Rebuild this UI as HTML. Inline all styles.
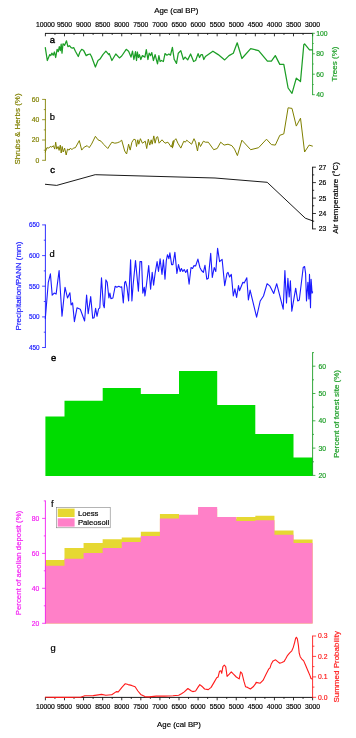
<!DOCTYPE html>
<html><head><meta charset="utf-8"><title>chart</title>
<style>html,body{margin:0;padding:0;background:#fff}body{width:356px;height:738px;overflow:hidden;font-family:"Liberation Sans",sans-serif}</style></head>
<body>
<svg width="356" height="738" viewBox="0 0 356 738" style="display:block;will-change:transform" font-family="Liberation Sans, sans-serif">
<rect width="356" height="738" fill="#fff"/>
<path d="M45.4 475.9 L45.4 416.6 L64.5 416.6 L64.5 400.8 L102.7 400.8 L102.7 387.9 L140.8 387.9 L140.8 394.1 L179.0 394.1 L179.0 371.0 L217.2 371.0 L217.2 405.0 L255.3 405.0 L255.3 434.1 L293.5 434.1 L293.5 457.5 L312.6 457.5 L312.6 475.9 Z" fill="#00dc00"/>
<path d="M45.40 623.5 L45.40 560.0 L64.49 560.0 L64.49 548.1 L83.57 548.1 L83.57 543.0 L102.66 543.0 L102.66 539.2 L121.74 539.2 L121.74 537.5 L140.83 537.5 L140.83 531.7 L159.91 531.7 L159.91 514.0 L179.00 514.0 L179.00 516.7 L198.09 516.7 L198.09 508.9 L217.17 508.9 L217.17 519.0 L236.26 519.0 L236.26 517.0 L255.34 517.0 L255.34 515.7 L274.43 515.7 L274.43 530.4 L293.51 530.4 L293.51 539.5 L312.60 539.5 L312.60 623.5 Z" fill="#e6d832"/>
<path d="M45.40 623.5 L45.40 565.8 L64.49 565.8 L64.49 558.7 L83.57 558.7 L83.57 553.1 L102.66 553.1 L102.66 548.1 L121.74 548.1 L121.74 541.9 L140.83 541.9 L140.83 536.0 L159.91 536.0 L159.91 518.5 L179.00 518.5 L179.00 514.7 L198.09 514.7 L198.09 506.9 L217.17 506.9 L217.17 517.0 L236.26 517.0 L236.26 521.0 L255.34 521.0 L255.34 520.3 L274.43 520.3 L274.43 534.7 L293.51 534.7 L293.51 543.0 L312.60 543.0 L312.60 623.5 Z" fill="#ff80c8"/>
<path d="M45.3 47.7 L47.3 60.5 L49.8 54.6 L50.8 55.6 L51.8 53.2 L53.2 55.2 L54.4 52.0 L55.7 57.5 L57.1 49.3 L58.3 51.6 L59.3 46.7 L60.3 50.6 L61.2 44.2 L62.0 53.2 L63.0 43.8 L64.6 45.3 L66.5 40.8 L67.9 46.7 L69.5 45.7 L71.1 47.7 L72.4 48.1 L73.8 47.7 L75.4 51.2 L78.3 56.5 L79.9 52.0 L81.7 49.3 L83.7 50.6 L86.2 55.6 L87.8 54.6 L90.1 54.0 L91.5 56.5 L95.4 67.0 L98.0 60.5 L100.0 59.1 L102.9 54.6 L105.9 51.2 L108.8 54.6 L109.3 53.6 L111.9 60.5 L115.8 54.0 L119.4 57.9 L121.7 56.0 L126.2 49.3 L128.6 51.2 L131.0 57.1 L132.5 51.2 L133.9 59.5 L135.5 51.6 L136.5 60.5 L137.4 52.0 L138.4 57.5 L139.4 54.6 L140.8 59.5 L142.4 55.6 L144.9 57.1 L146.3 49.7 L147.9 59.5 L149.2 53.2 L150.6 55.6 L151.8 52.6 L153.4 60.5 L155.1 54.6 L157.5 63.8 L158.9 55.6 L160.1 61.5 L161.4 60.5 L163.4 61.5 L165.0 53.6 L166.9 55.2 L168.9 54.0 L170.5 55.2 L172.4 47.3 L174.2 59.5 L174.3 59.5 L176.5 63.4 L178.3 53.2 L180.8 50.6 L183.4 59.5 L185.1 57.1 L187.7 59.9 L190.6 54.0 L193.6 61.5 L195.6 60.5 L198.1 53.6 L199.5 57.5 L201.1 54.6 L202.4 54.6 L203.8 59.5 L205.4 56.5 L212.9 51.2 L218.2 54.6 L224.7 59.9 L229.0 55.6 L233.3 53.2 L237.2 42.8 L241.9 58.5 L250.7 48.7 L258.6 50.6 L267.4 61.1 L271.4 61.1 L275.3 55.6 L279.8 64.4 L283.8 64.4 L288.1 88.0 L292.0 93.3 L296.3 78.2 L300.5 81.5 L303.8 44.7 L304.6 43.9 L309.5 49.9 L312.5 49.9" fill="none" stroke="#1c9e26" stroke-width="1.25" stroke-linejoin="round" stroke-linecap="round"/>
<path d="M45.3 152.0 L46.9 147.7 L48.8 148.1 L50.2 146.5 L51.8 147.1 L53.4 145.7 L54.7 149.1 L55.7 142.2 L56.7 149.1 L58.1 146.5 L59.1 150.4 L60.3 145.1 L61.2 153.0 L62.2 146.5 L63.2 152.0 L64.6 148.1 L66.2 155.0 L67.5 149.1 L69.1 150.1 L70.5 148.1 L71.9 149.7 L73.4 148.1 L75.4 147.7 L79.3 140.6 L81.7 150.1 L84.2 147.1 L87.2 145.7 L89.2 147.7 L91.5 144.2 L95.4 136.3 L98.0 139.8 L101.0 141.2 L103.9 144.6 L107.8 148.5 L109.9 145.1 L111.9 142.2 L114.8 143.2 L117.2 142.8 L119.7 141.8 L121.7 140.2 L124.7 151.0 L126.6 154.0 L128.6 144.2 L130.2 150.1 L131.9 142.2 L133.9 139.2 L135.5 139.8 L136.5 146.5 L137.8 139.8 L138.8 144.2 L140.4 138.7 L142.4 143.2 L145.3 141.2 L146.7 148.5 L148.3 139.2 L149.8 145.1 L151.2 139.8 L152.2 144.2 L153.8 135.9 L155.1 143.2 L156.5 137.3 L157.7 136.7 L159.1 143.2 L162.0 139.8 L165.0 143.2 L167.9 142.2 L171.3 147.1 L173.4 140.6 L172.4 148.1 L174.3 140.6 L175.9 138.7 L177.9 143.2 L180.8 148.1 L183.8 141.2 L185.3 142.2 L186.7 140.2 L188.7 141.8 L191.6 144.2 L194.0 138.7 L195.6 142.2 L197.5 151.0 L198.9 142.2 L200.5 146.5 L203.4 141.2 L205.4 142.2 L208.3 142.2 L213.7 149.7 L217.2 148.5 L220.7 142.2 L224.1 145.1 L228.0 144.2 L231.9 145.7 L234.5 149.1 L237.4 155.6 L241.9 140.2 L250.7 149.7 L258.6 147.7 L266.5 139.2 L271.4 144.6 L275.3 145.1 L279.8 135.3 L283.8 133.9 L288.1 107.8 L292.0 108.4 L296.3 126.1 L300.5 118.2 L304.6 152.0 L309.1 145.1 L312.4 146.1" fill="none" stroke="#808000" stroke-width="1.0" stroke-linejoin="round" stroke-linecap="round"/>
<path d="M45.4 184.3 L56.7 185.4 L95.2 174.7 L215.0 178.0 L267.2 182.3 L305.3 218.2 L312.8 220.9" fill="none" stroke="#000" stroke-width="0.9" stroke-linejoin="round" stroke-linecap="round"/>
<path d="M45.3 318.7 L48.3 282.3 L50.4 273.8 L52.2 295.1 L54.2 293.1 L56.1 294.1 L59.1 270.5 L62.0 316.3 L65.0 287.2 L67.5 298.0 L69.9 292.7 L71.1 304.9 L72.6 302.9 L74.4 321.6 L77.0 307.8 L80.3 309.2 L84.6 321.0 L86.6 295.1 L88.2 313.7 L90.7 296.6 L92.7 318.3 L94.1 317.7 L95.6 308.4 L97.0 316.3 L98.6 308.8 L99.8 307.8 L101.5 277.9 L103.3 304.9 L104.3 307.8 L105.9 279.9 L107.2 282.3 L108.9 298.0 L109.9 293.1 L110.9 298.6 L112.9 298.0 L115.2 286.2 L116.8 287.2 L118.8 286.2 L120.7 287.2 L121.7 286.8 L123.3 302.9 L124.7 282.3 L125.6 281.3 L127.0 287.2 L128.6 301.0 L130.6 259.7 L131.9 301.0 L133.1 285.2 L135.5 260.6 L138.4 291.1 L140.0 261.6 L141.6 261.6 L142.8 293.1 L144.3 287.2 L144.9 296.0 L146.3 286.2 L148.7 265.6 L150.6 289.2 L152.2 272.4 L153.6 285.2 L155.1 273.4 L157.1 261.6 L158.5 271.5 L160.1 258.7 L162.0 274.4 L163.4 259.7 L165.0 279.3 L166.3 260.6 L167.5 254.7 L168.9 258.7 L169.9 252.8 L171.6 264.6 L172.9 264.6 L174.9 252.2 L176.9 273.4 L178.5 264.6 L180.2 271.5 L181.4 268.5 L182.8 271.5 L184.2 269.5 L185.7 272.4 L187.3 269.5 L189.1 284.2 L191.0 267.5 L192.6 268.5 L194.0 265.6 L195.6 266.0 L197.9 259.1 L199.9 267.5 L201.5 270.5 L203.4 272.4 L205.0 265.2 L206.8 279.3 L208.3 278.3 L210.7 253.4 L212.3 277.4 L214.2 267.5 L215.8 271.5 L217.6 248.3 L219.6 261.6 L222.1 259.3 L224.7 285.6 L227.0 273.4 L228.0 272.4 L229.6 277.0 L231.3 274.4 L233.3 296.0 L234.9 288.8 L236.6 297.4 L238.5 285.6 L239.5 290.7 L242.9 282.3 L244.2 282.9 L246.8 277.8 L248.4 300.0 L250.1 290.1 L256.6 317.1 L260.2 301.0 L263.5 296.0 L267.1 283.7 L270.0 286.2 L273.7 293.5 L276.7 283.7 L283.2 309.2 L284.9 270.5 L286.5 302.9 L287.9 278.3 L289.2 297.0 L290.4 280.9 L291.8 311.2 L295.7 288.2 L297.7 301.0 L299.3 300.0 L303.2 267.5 L304.6 266.5 L305.6 273.4 L306.5 301.0 L307.9 282.3 L308.9 299.0 L309.5 274.4 L310.5 307.8 L311.1 279.3 L312.1 293.1 L312.6 292.1" fill="none" stroke="#1a1aff" stroke-width="1.1" stroke-linejoin="round" stroke-linecap="round"/>
<path d="M45.0 33.4 H313.0" stroke="#000" stroke-width="0.9" fill="none"/>
<path d="M45.40 33.4 v2.9 M54.94 33.4 v1.5 M64.49 33.4 v2.9 M74.03 33.4 v1.5 M83.57 33.4 v2.9 M93.11 33.4 v1.5 M102.66 33.4 v2.9 M112.20 33.4 v1.5 M121.74 33.4 v2.9 M131.29 33.4 v1.5 M140.83 33.4 v2.9 M150.37 33.4 v1.5 M159.91 33.4 v2.9 M169.46 33.4 v1.5 M179.00 33.4 v2.9 M188.54 33.4 v1.5 M198.09 33.4 v2.9 M207.63 33.4 v1.5 M217.17 33.4 v2.9 M226.71 33.4 v1.5 M236.26 33.4 v2.9 M245.80 33.4 v1.5 M255.34 33.4 v2.9 M264.89 33.4 v1.5 M274.43 33.4 v2.9 M283.97 33.4 v1.5 M293.51 33.4 v2.9 M303.06 33.4 v1.5 M312.60 33.4 v2.9 " stroke="#000" stroke-width="0.8" fill="none"/>
<text x="45.4" y="27.2" font-size="6.8" text-anchor="middle" fill="#000" stroke="#000" stroke-width="0.18">10000</text>
<text x="64.5" y="27.2" font-size="6.8" text-anchor="middle" fill="#000" stroke="#000" stroke-width="0.18">9500</text>
<text x="83.6" y="27.2" font-size="6.8" text-anchor="middle" fill="#000" stroke="#000" stroke-width="0.18">9000</text>
<text x="102.7" y="27.2" font-size="6.8" text-anchor="middle" fill="#000" stroke="#000" stroke-width="0.18">8500</text>
<text x="121.7" y="27.2" font-size="6.8" text-anchor="middle" fill="#000" stroke="#000" stroke-width="0.18">8000</text>
<text x="140.8" y="27.2" font-size="6.8" text-anchor="middle" fill="#000" stroke="#000" stroke-width="0.18">7500</text>
<text x="159.9" y="27.2" font-size="6.8" text-anchor="middle" fill="#000" stroke="#000" stroke-width="0.18">7000</text>
<text x="179.0" y="27.2" font-size="6.8" text-anchor="middle" fill="#000" stroke="#000" stroke-width="0.18">6500</text>
<text x="198.1" y="27.2" font-size="6.8" text-anchor="middle" fill="#000" stroke="#000" stroke-width="0.18">6000</text>
<text x="217.2" y="27.2" font-size="6.8" text-anchor="middle" fill="#000" stroke="#000" stroke-width="0.18">5500</text>
<text x="236.3" y="27.2" font-size="6.8" text-anchor="middle" fill="#000" stroke="#000" stroke-width="0.18">5000</text>
<text x="255.3" y="27.2" font-size="6.8" text-anchor="middle" fill="#000" stroke="#000" stroke-width="0.18">4500</text>
<text x="274.4" y="27.2" font-size="6.8" text-anchor="middle" fill="#000" stroke="#000" stroke-width="0.18">4000</text>
<text x="293.5" y="27.2" font-size="6.8" text-anchor="middle" fill="#000" stroke="#000" stroke-width="0.18">3500</text>
<text x="312.6" y="27.2" font-size="6.8" text-anchor="middle" fill="#000" stroke="#000" stroke-width="0.18">3000</text>
<text x="176.3" y="13" font-size="7.9" text-anchor="middle" fill="#000" stroke="#000" stroke-width="0.18">Age (cal BP)</text>
<path d="M45.0 697.4 H313.0" stroke="#000" stroke-width="0.9" fill="none"/>
<path d="M45.40 697.4 v2.9 M54.94 697.4 v1.5 M64.49 697.4 v2.9 M74.03 697.4 v1.5 M83.57 697.4 v2.9 M93.11 697.4 v1.5 M102.66 697.4 v2.9 M112.20 697.4 v1.5 M121.74 697.4 v2.9 M131.29 697.4 v1.5 M140.83 697.4 v2.9 M150.37 697.4 v1.5 M159.91 697.4 v2.9 M169.46 697.4 v1.5 M179.00 697.4 v2.9 M188.54 697.4 v1.5 M198.09 697.4 v2.9 M207.63 697.4 v1.5 M217.17 697.4 v2.9 M226.71 697.4 v1.5 M236.26 697.4 v2.9 M245.80 697.4 v1.5 M255.34 697.4 v2.9 M264.89 697.4 v1.5 M274.43 697.4 v2.9 M283.97 697.4 v1.5 M293.51 697.4 v2.9 M303.06 697.4 v1.5 M312.60 697.4 v2.9 " stroke="#000" stroke-width="0.8" fill="none"/>
<text x="45.4" y="709.3" font-size="6.8" text-anchor="middle" fill="#000" stroke="#000" stroke-width="0.18">10000</text>
<text x="64.5" y="709.3" font-size="6.8" text-anchor="middle" fill="#000" stroke="#000" stroke-width="0.18">9500</text>
<text x="83.6" y="709.3" font-size="6.8" text-anchor="middle" fill="#000" stroke="#000" stroke-width="0.18">9000</text>
<text x="102.7" y="709.3" font-size="6.8" text-anchor="middle" fill="#000" stroke="#000" stroke-width="0.18">8500</text>
<text x="121.7" y="709.3" font-size="6.8" text-anchor="middle" fill="#000" stroke="#000" stroke-width="0.18">8000</text>
<text x="140.8" y="709.3" font-size="6.8" text-anchor="middle" fill="#000" stroke="#000" stroke-width="0.18">7500</text>
<text x="159.9" y="709.3" font-size="6.8" text-anchor="middle" fill="#000" stroke="#000" stroke-width="0.18">7000</text>
<text x="179.0" y="709.3" font-size="6.8" text-anchor="middle" fill="#000" stroke="#000" stroke-width="0.18">6500</text>
<text x="198.1" y="709.3" font-size="6.8" text-anchor="middle" fill="#000" stroke="#000" stroke-width="0.18">6000</text>
<text x="217.2" y="709.3" font-size="6.8" text-anchor="middle" fill="#000" stroke="#000" stroke-width="0.18">5500</text>
<text x="236.3" y="709.3" font-size="6.8" text-anchor="middle" fill="#000" stroke="#000" stroke-width="0.18">5000</text>
<text x="255.3" y="709.3" font-size="6.8" text-anchor="middle" fill="#000" stroke="#000" stroke-width="0.18">4500</text>
<text x="274.4" y="709.3" font-size="6.8" text-anchor="middle" fill="#000" stroke="#000" stroke-width="0.18">4000</text>
<text x="293.5" y="709.3" font-size="6.8" text-anchor="middle" fill="#000" stroke="#000" stroke-width="0.18">3500</text>
<text x="312.6" y="709.3" font-size="6.8" text-anchor="middle" fill="#000" stroke="#000" stroke-width="0.18">3000</text>
<text x="179" y="727.4" font-size="7.8" text-anchor="middle" fill="#000" stroke="#000" stroke-width="0.18">Age (cal BP)</text>
<path d="M312.6 32.9 V95.1" stroke="#1c9e26" stroke-width="0.9" fill="none"/>
<path d="M312.6 33.3 h2.2 M312.6 53.8 h2.2 M312.6 74.2 h2.2 M312.6 94.7 h2.2 M312.6 43.5 h1.1 M312.6 64.0 h1.1 M312.6 84.5 h1.1 " stroke="#1c9e26" stroke-width="0.8" fill="none"/>
<text x="316.2" y="35.7" font-size="6.8" text-anchor="start" fill="#1c9e26" stroke="#1c9e26" stroke-width="0.18">100</text>
<text x="316.2" y="56.2" font-size="6.8" text-anchor="start" fill="#1c9e26" stroke="#1c9e26" stroke-width="0.18">80</text>
<text x="316.2" y="76.7" font-size="6.8" text-anchor="start" fill="#1c9e26" stroke="#1c9e26" stroke-width="0.18">60</text>
<text x="316.2" y="97.1" font-size="6.8" text-anchor="start" fill="#1c9e26" stroke="#1c9e26" stroke-width="0.18">40</text>
<text transform="translate(337.0 64.0) rotate(-90)" font-size="8" text-anchor="middle" fill="#1c9e26" stroke="#1c9e26" stroke-width="0.18">Trees (%)</text>
<path d="M45.4 99.0 V160.7" stroke="#808000" stroke-width="0.9" fill="none"/>
<path d="M45.4 99.4 h-3.3 M45.4 119.7 h-3.3 M45.4 140.0 h-3.3 M45.4 160.3 h-3.3 M45.4 109.6 h-1.6 M45.4 129.9 h-1.6 M45.4 150.2 h-1.6 " stroke="#808000" stroke-width="0.8" fill="none"/>
<text x="39.4" y="101.8" font-size="6.8" text-anchor="end" fill="#808000" stroke="#808000" stroke-width="0.18">60</text>
<text x="39.4" y="122.1" font-size="6.8" text-anchor="end" fill="#808000" stroke="#808000" stroke-width="0.18">40</text>
<text x="39.4" y="142.4" font-size="6.8" text-anchor="end" fill="#808000" stroke="#808000" stroke-width="0.18">20</text>
<text x="39.4" y="162.7" font-size="6.8" text-anchor="end" fill="#808000" stroke="#808000" stroke-width="0.18">0</text>
<text transform="translate(20.0 129.0) rotate(-90)" font-size="8" text-anchor="middle" fill="#808000" stroke="#808000" stroke-width="0.18">Shrubs &amp; Herbs (%)</text>
<path d="M312.6 166.8 V229.3" stroke="#000" stroke-width="0.9" fill="none"/>
<path d="M312.6 167.2 h3.3 M312.6 182.6 h3.3 M312.6 198.1 h3.3 M312.6 213.5 h3.3 M312.6 228.9 h3.3 M312.6 221.2 h1.6 M312.6 205.8 h1.6 M312.6 190.3 h1.6 M312.6 174.9 h1.6 " stroke="#000" stroke-width="0.8" fill="none"/>
<text x="318.7" y="169.6" font-size="6.8" text-anchor="start" fill="#000" stroke="#000" stroke-width="0.18">27</text>
<text x="318.7" y="185.1" font-size="6.8" text-anchor="start" fill="#000" stroke="#000" stroke-width="0.18">26</text>
<text x="318.7" y="200.5" font-size="6.8" text-anchor="start" fill="#000" stroke="#000" stroke-width="0.18">25</text>
<text x="318.7" y="215.9" font-size="6.8" text-anchor="start" fill="#000" stroke="#000" stroke-width="0.18">24</text>
<text x="318.7" y="231.3" font-size="6.8" text-anchor="start" fill="#000" stroke="#000" stroke-width="0.18">23</text>
<text transform="translate(338.0 198.0) rotate(-90)" font-size="8" text-anchor="middle" fill="#000" stroke="#000" stroke-width="0.18">Air temperature (°C)</text>
<path d="M45.4 224.5 V347.9" stroke="#1a1aff" stroke-width="0.9" fill="none"/>
<path d="M45.4 224.9 h-3.3 M45.4 255.6 h-3.3 M45.4 286.2 h-3.3 M45.4 316.9 h-3.3 M45.4 347.5 h-3.3 M45.4 332.2 h-1.6 M45.4 301.5 h-1.6 M45.4 270.9 h-1.6 M45.4 240.2 h-1.6 " stroke="#1a1aff" stroke-width="0.8" fill="none"/>
<text x="39.7" y="227.2" font-size="6.4" text-anchor="end" fill="#1a1aff" stroke="#1a1aff" stroke-width="0.18">650</text>
<text x="39.7" y="257.9" font-size="6.4" text-anchor="end" fill="#1a1aff" stroke="#1a1aff" stroke-width="0.18">600</text>
<text x="39.7" y="288.5" font-size="6.4" text-anchor="end" fill="#1a1aff" stroke="#1a1aff" stroke-width="0.18">550</text>
<text x="39.7" y="319.2" font-size="6.4" text-anchor="end" fill="#1a1aff" stroke="#1a1aff" stroke-width="0.18">500</text>
<text x="39.7" y="349.8" font-size="6.4" text-anchor="end" fill="#1a1aff" stroke="#1a1aff" stroke-width="0.18">450</text>
<text transform="translate(21.0 286.0) rotate(-90)" font-size="8" text-anchor="middle" fill="#1a1aff" stroke="#1a1aff" stroke-width="0.18">Precipitation/PANN (mm)</text>
<path d="M312.6 352.2 V475.8" stroke="#1c9e26" stroke-width="0.9" fill="none"/>
<path d="M312.6 366.2 h2.8 M312.6 393.5 h2.8 M312.6 420.8 h2.8 M312.6 448.1 h2.8 M312.6 475.4 h2.8 M312.6 352.6 h1.4 M312.6 379.8 h1.4 M312.6 407.1 h1.4 M312.6 434.4 h1.4 M312.6 461.8 h1.4 " stroke="#1c9e26" stroke-width="0.8" fill="none"/>
<text x="318.4" y="368.6" font-size="6.8" text-anchor="start" fill="#1c9e26" stroke="#1c9e26" stroke-width="0.18">60</text>
<text x="318.4" y="395.9" font-size="6.8" text-anchor="start" fill="#1c9e26" stroke="#1c9e26" stroke-width="0.18">50</text>
<text x="318.4" y="423.2" font-size="6.8" text-anchor="start" fill="#1c9e26" stroke="#1c9e26" stroke-width="0.18">40</text>
<text x="318.4" y="450.5" font-size="6.8" text-anchor="start" fill="#1c9e26" stroke="#1c9e26" stroke-width="0.18">30</text>
<text x="318.4" y="477.8" font-size="6.8" text-anchor="start" fill="#1c9e26" stroke="#1c9e26" stroke-width="0.18">20</text>
<text transform="translate(338.6 414.0) rotate(-90)" font-size="8" text-anchor="middle" fill="#1c9e26" stroke="#1c9e26" stroke-width="0.18">Percent of forest site (%)</text>
<path d="M45.4 500.5 V623.7" stroke="#f21cf2" stroke-width="0.9" fill="none"/>
<path d="M45.4 518.4 h-3.3 M45.4 553.4 h-3.3 M45.4 588.3 h-3.3 M45.4 623.3 h-3.3 M45.4 500.9 h-1.6 M45.4 535.9 h-1.6 M45.4 570.8 h-1.6 M45.4 605.8 h-1.6 " stroke="#f21cf2" stroke-width="0.8" fill="none"/>
<text x="39.2" y="520.8" font-size="6.8" text-anchor="end" fill="#f21cf2" stroke="#f21cf2" stroke-width="0.18">80</text>
<text x="39.2" y="555.8" font-size="6.8" text-anchor="end" fill="#f21cf2" stroke="#f21cf2" stroke-width="0.18">60</text>
<text x="39.2" y="590.8" font-size="6.8" text-anchor="end" fill="#f21cf2" stroke="#f21cf2" stroke-width="0.18">40</text>
<text x="39.2" y="625.7" font-size="6.8" text-anchor="end" fill="#f21cf2" stroke="#f21cf2" stroke-width="0.18">20</text>
<text transform="translate(21.2 563.0) rotate(-90)" font-size="7.8" text-anchor="middle" fill="#f21cf2" stroke="#f21cf2" stroke-width="0.18">Percent of aeolian deposit (%)</text>
<path d="M312.6 635.6 V697.7" stroke="#ff1a1a" stroke-width="0.9" fill="none"/>
<path d="M312.6 636.0 h3.5 M312.6 656.4 h3.5 M312.6 676.9 h3.5 M312.6 697.3 h3.5 M312.6 646.2 h1.8 M312.6 666.6 h1.8 M312.6 687.1 h1.8 " stroke="#ff1a1a" stroke-width="0.8" fill="none"/>
<text x="318.1" y="638.4" font-size="6.8" text-anchor="start" fill="#ff1a1a" stroke="#ff1a1a" stroke-width="0.18">0.3</text>
<text x="318.1" y="658.9" font-size="6.8" text-anchor="start" fill="#ff1a1a" stroke="#ff1a1a" stroke-width="0.18">0.2</text>
<text x="318.1" y="679.3" font-size="6.8" text-anchor="start" fill="#ff1a1a" stroke="#ff1a1a" stroke-width="0.18">0.1</text>
<text x="318.1" y="699.7" font-size="6.8" text-anchor="start" fill="#ff1a1a" stroke="#ff1a1a" stroke-width="0.18">0.0</text>
<text transform="translate(338.6 666.8) rotate(-90)" font-size="8" text-anchor="middle" fill="#ff1a1a" stroke="#ff1a1a" stroke-width="0.18">Summed Probability</text>
<path d="M45.4 697.2 L55.3 697.4 L66.5 697.4 L80.6 697.2 L84.8 695.8 L93.2 695.6 L101.6 694.4 L105.8 695.3 L111.5 694.7 L111.8 694.7 L116.3 691.6 L118.3 691.9 L121.9 687.4 L125.3 683.7 L128.1 684.6 L131.5 685.4 L135.1 686.8 L137.9 691.0 L140.7 694.4 L144.9 696.6 L149.2 696.9 L156.2 696.1 L164.6 696.1 L173.0 695.8 L178.7 695.2 L181.5 693.8 L184.3 691.9 L187.9 688.5 L191.4 691.0 L192.8 691.6 L195.6 691.0 L197.9 687.4 L199.8 684.6 L201.8 686.2 L204.6 689.0 L208.3 689.6 L211.1 687.4 L213.9 682.6 L216.7 677.8 L218.1 677.0 L219.5 671.3 L220.9 670.8 L221.7 673.3 L222.9 666.6 L224.3 665.2 L225.7 666.6 L227.1 676.4 L229.3 674.2 L231.3 671.9 L233.5 674.2 L236.3 677.0 L239.2 678.9 L240.6 671.9 L242.0 673.3 L243.9 681.2 L245.6 686.8 L247.6 687.4 L250.4 689.0 L253.2 686.8 L256.0 683.1 L256.0 682.4 L260.2 683.2 L263.0 680.4 L265.8 674.8 L268.6 669.2 L270.0 667.9 L271.4 663.7 L273.1 660.9 L275.6 659.8 L277.7 661.6 L279.8 663.3 L281.9 662.6 L284.0 661.6 L285.7 658.8 L287.6 655.3 L289.7 652.8 L291.8 650.8 L293.2 647.6 L294.6 642.6 L295.6 638.4 L296.4 637.3 L297.4 639.1 L298.4 645.4 L299.2 653.2 L300.2 656.7 L301.6 658.8 L303.7 660.9 L305.8 665.8 L307.9 670.7 L310.0 675.6 L311.0 678.5 L312.1 678.9" fill="none" stroke="#ff1a1a" stroke-width="1.1" stroke-linejoin="round" stroke-linecap="round"/>
<text x="52.4" y="42.5" font-size="9.4" text-anchor="middle" fill="#000" stroke="#000" stroke-width="0.4">a</text>
<text x="52.4" y="120.2" font-size="9.4" text-anchor="middle" fill="#000" stroke="#000" stroke-width="0.22">b</text>
<text x="52.5" y="172.6" font-size="9.4" text-anchor="middle" fill="#000" stroke="#000" stroke-width="0.45">c</text>
<text x="52.0" y="257.0" font-size="9.4" text-anchor="middle" fill="#000" stroke="#000" stroke-width="0.22">d</text>
<text x="53.5" y="361.0" font-size="9.4" text-anchor="middle" fill="#000" stroke="#000" stroke-width="0.4">e</text>
<text x="52.2" y="506.5" font-size="9.4" text-anchor="middle" fill="#000" stroke="#000" stroke-width="0.15">f</text>
<text x="53.0" y="650.6" font-size="9.4" text-anchor="middle" fill="#000" stroke="#000" stroke-width="0.22">g</text>
<rect x="56.4" y="507.3" width="53.8" height="20.5" fill="#fff" stroke="#777" stroke-width="0.55"/>
<rect x="57.7" y="508.6" width="16.9" height="8.4" fill="#e6d832"/>
<rect x="57.7" y="518.3" width="16.9" height="8.3" fill="#ff80c8"/>
<text x="77.9" y="515.7" font-size="7.7" fill="#000" stroke="#000" stroke-width="0.18">Loess</text>
<text x="77.9" y="525.3" font-size="7.7" fill="#000" stroke="#000" stroke-width="0.18">Paleosoil</text>
</svg>
</body></html>
